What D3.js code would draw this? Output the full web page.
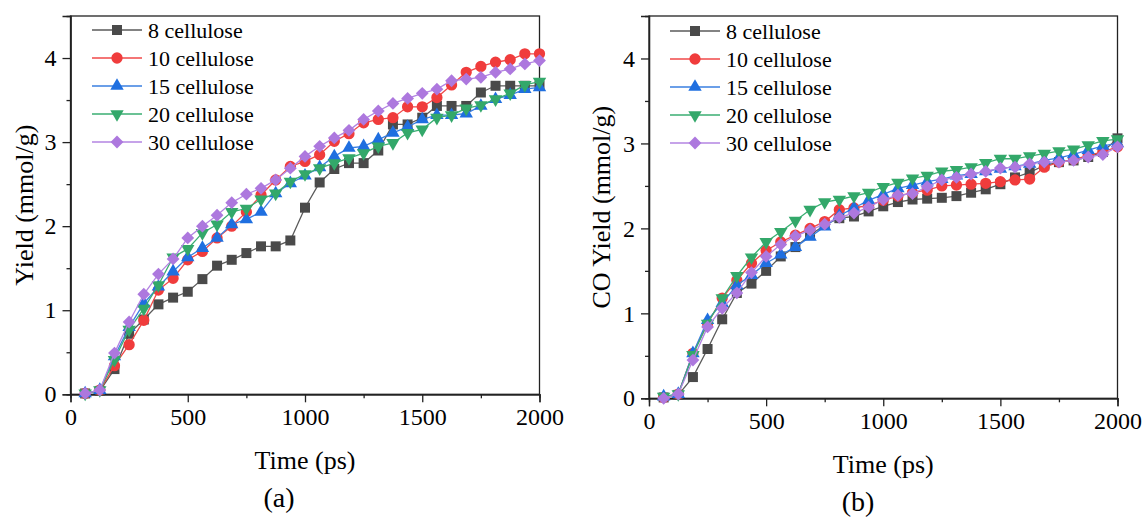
<!DOCTYPE html>
<html>
<head>
<meta charset="utf-8">
<script src="https://cdn.jsdelivr.net/npm/d3@7"></script>
<style>
  body { margin: 0; background: #fff; }
  svg text { font-family: "Liberation Serif", "Times New Roman", serif; fill: #000; }
</style>
</head>
<body>
<div id="chart"></div>
<script>
// time points (ps)
const times = [62.5, 125, 187.5, 250, 312.5, 375, 437.5, 500, 562.5, 625, 687.5, 750,
  812.5, 875, 937.5, 1000, 1062.5, 1125, 1187.5, 1250, 1312.5, 1375, 1437.5, 1500,
  1562.5, 1625, 1687.5, 1750, 1812.5, 1875, 1937.5, 2000];

const seriesNames = ["8 cellulose", "10 cellulose", "15 cellulose", "20 cellulose", "30 cellulose"];

// (a) Yield
const yieldA8  = [0.01, 0.04, 0.30, 0.72, 0.89, 1.07, 1.15, 1.22, 1.37, 1.53, 1.60, 1.68, 1.76, 1.76, 1.83, 2.22,
  2.52, 2.68, 2.75, 2.75, 2.90, 3.21, 3.21, 3.29, 3.43, 3.43, 3.43, 3.59, 3.67, 3.67, 3.67, 3.67];
const yieldA10 = [0.01, 0.05, 0.34, 0.59, 0.88, 1.24, 1.38, 1.60, 1.70, 1.86, 2.00, 2.17, 2.37, 2.55, 2.71, 2.77,
  2.85, 3.01, 3.10, 3.23, 3.27, 3.29, 3.42, 3.42, 3.53, 3.68, 3.83, 3.90, 3.95, 3.98, 4.05, 4.05];
const yieldA15 = [0.01, 0.05, 0.45, 0.80, 1.08, 1.28, 1.46, 1.63, 1.74, 1.86, 2.02, 2.08, 2.17, 2.39, 2.51, 2.60,
  2.70, 2.83, 2.93, 2.95, 3.03, 3.11, 3.18, 3.27, 3.32, 3.32, 3.34, 3.43, 3.51, 3.56, 3.63, 3.65];
const yieldA20 = [0.01, 0.05, 0.41, 0.77, 1.02, 1.30, 1.63, 1.73, 1.92, 2.02, 2.17, 2.21, 2.32, 2.39, 2.53, 2.62,
  2.69, 2.75, 2.81, 2.87, 2.95, 2.99, 3.11, 3.15, 3.29, 3.32, 3.40, 3.44, 3.51, 3.58, 3.68, 3.72];
const yieldA30 = [0.01, 0.05, 0.49, 0.86, 1.19, 1.43, 1.61, 1.86, 2.00, 2.13, 2.28, 2.38, 2.45, 2.55, 2.69, 2.83,
  2.95, 3.05, 3.14, 3.27, 3.37, 3.46, 3.52, 3.58, 3.63, 3.73, 3.75, 3.77, 3.83, 3.87, 3.93, 3.97];

// (b) CO yield
const coB8  = [0.01, 0.04, 0.25, 0.58, 0.93, 1.24, 1.35, 1.50, 1.67, 1.78, 1.92, 2.04, 2.12, 2.14, 2.20, 2.26,
  2.31, 2.34, 2.35, 2.36, 2.38, 2.42, 2.46, 2.52, 2.60, 2.66, 2.74, 2.78, 2.80, 2.84, 2.90, 3.06];
const coB10 = [0.01, 0.05, 0.53, 0.88, 1.18, 1.39, 1.59, 1.74, 1.84, 1.92, 2.00, 2.08, 2.22, 2.24, 2.27, 2.33,
  2.38, 2.42, 2.45, 2.50, 2.51, 2.52, 2.53, 2.55, 2.57, 2.58, 2.72, 2.78, 2.81, 2.86, 2.90, 2.96];
const coB15 = [0.02, 0.05, 0.53, 0.92, 1.12, 1.33, 1.45, 1.59, 1.69, 1.78, 1.90, 2.02, 2.15, 2.24, 2.33, 2.40,
  2.47, 2.51, 2.55, 2.58, 2.62, 2.64, 2.67, 2.70, 2.73, 2.76, 2.80, 2.83, 2.87, 2.92, 2.97, 3.00];
const coB20 = [0.02, 0.05, 0.51, 0.88, 1.18, 1.44, 1.66, 1.84, 1.96, 2.09, 2.22, 2.31, 2.34, 2.38, 2.42, 2.49,
  2.54, 2.59, 2.62, 2.67, 2.69, 2.72, 2.77, 2.82, 2.82, 2.85, 2.88, 2.91, 2.93, 2.98, 3.03, 3.05];
const coB30 = [0.00, 0.05, 0.45, 0.84, 1.06, 1.24, 1.48, 1.67, 1.81, 1.91, 1.98, 2.05, 2.13, 2.18, 2.25, 2.34,
  2.39, 2.41, 2.49, 2.57, 2.60, 2.64, 2.67, 2.71, 2.72, 2.76, 2.78, 2.78, 2.80, 2.84, 2.87, 2.96];

const xTicks = [0, 500, 1000, 1500, 2000];
const yTicks = [0, 1, 2, 3, 4];

const svg = d3.select("#chart").append("svg")
    .attr("width", 1147)
    .attr("height", 519);

// marker styles per series (same order as seriesNames)
const styles = [
  { line: "#5a5a5a", fill: "#4a4a4a", shape: "square" },
  { line: "#f04848", fill: "#f03c3c", shape: "circle" },
  { line: "#3a7fe0", fill: "#1f6fe0", shape: "up" },
  { line: "#3aae72", fill: "#33a86a", shape: "down" },
  { line: "#b384e2", fill: "#ad78de", shape: "diamond" }
];

function markerPath(shape) {
  if (shape === "square") return d3.symbol(d3.symbolSquare, 100)();
  if (shape === "circle") return d3.symbol(d3.symbolCircle, 100)();
  if (shape === "up" || shape === "down") return d3.symbol(d3.symbolTriangle, 78)();
  return d3.symbol(d3.symbolSquare, 82)();   // diamond = rotated square
}
function markerRot(shape) {
  if (shape === "down") return " rotate(180)";
  if (shape === "diamond") return " rotate(45)";
  return "";
}

function drawPanel(cfg) {
  const g = svg.append("g");
  const x = d3.scaleLinear().domain([0, 2000]).range([cfg.left, cfg.right]);
  const y = d3.scaleLinear().domain([0, 4.5]).range([cfg.bottom, cfg.top]);

    // frame
  g.append("rect")
      .attr("x", cfg.left).attr("y", cfg.top)
      .attr("width", cfg.right - cfg.left).attr("height", cfg.bottom - cfg.top)
      .attr("fill", "none").attr("stroke", "#222").attr("stroke-width", 1.3);

    // x axis
  const xAxis = g.append("g")
      .attr("transform", `translate(0,${cfg.bottom})`)
      .call(d3.axisBottom(x).tickValues(xTicks).tickSize(8).tickPadding(6).tickFormat(d3.format("d")));
  g.append("g")
      .attr("transform", `translate(0,${cfg.bottom})`)
      .call(d3.axisBottom(x).tickValues([250, 750, 1250, 1750]).tickSize(4).tickFormat(""));

    // y axis
  const yAxis = g.append("g")
      .attr("transform", `translate(${cfg.left},0)`)
      .call(d3.axisLeft(y).tickValues(yTicks).tickSize(8).tickPadding(6).tickFormat(d3.format("d")));
  g.append("g")
      .attr("transform", `translate(${cfg.left},0)`)
      .call(d3.axisLeft(y).tickValues([0.5, 1.5, 2.5, 3.5]).tickSize(4).tickFormat(""));

  g.selectAll(".domain").attr("stroke", "#222").attr("stroke-width", 1.3);
  g.selectAll(".tick line").attr("stroke", "#222").attr("stroke-width", 1.3);
  g.selectAll(".tick text")
      .style("font-family", "'Liberation Serif', serif")
      .style("font-size", "24px").attr("fill", "#000");

    // lines + markers
  cfg.data.forEach((vals, k) => {
    const st = styles[k];
    const line = d3.line()
        .x((d, i) => x(times[i]))
        .y(d => y(d));
    g.append("path")
        .datum(vals)
        .attr("fill", "none")
        .attr("stroke", st.line)
        .attr("stroke-width", 1.3)
        .attr("d", line);
    g.selectAll(null)
        .data(vals)
        .enter()
        .append("path")
        .attr("d", markerPath(st.shape))
        .attr("transform", (d, i) => `translate(${x(times[i])},${y(d)})` + markerRot(st.shape))
        .attr("fill", st.fill);
  });

    // legend
  seriesNames.forEach((name, k) => {
    const st = styles[k];
    const ly = cfg.legendY + k * 28;
    g.append("line")
        .attr("x1", cfg.legendX).attr("x2", cfg.legendX + 50)
        .attr("y1", ly).attr("y2", ly)
        .attr("stroke", st.line).attr("stroke-width", 1.6);
    g.append("path")
        .attr("d", markerPath(st.shape))
        .attr("transform", `translate(${cfg.legendX + 25},${ly})` + markerRot(st.shape))
        .attr("fill", st.fill);
    g.append("text")
        .attr("x", cfg.legendX + 56)
        .attr("y", ly)
        .attr("dy", "0.35em")
        .style("font-size", "22px")
        .text(name);
  });

    // axis titles
  g.append("text")
      .attr("text-anchor", "middle")
      .attr("x", (cfg.left + cfg.right) / 2)
      .attr("y", cfg.bottom + 75)
      .style("font-size", "26px")
      .text("Time (ps)");

  g.append("text")
      .attr("text-anchor", "middle")
      .attr("transform", "rotate(-90)")
      .attr("x", -(cfg.top + cfg.bottom) / 2)
      .attr("y", cfg.yTitleX)
      .style("font-size", "26px")
      .text(cfg.yTitle);

  g.append("text")
      .attr("text-anchor", "middle")
      .attr("x", cfg.tagX)
      .attr("y", cfg.bottom + 113)
      .style("font-size", "28px")
      .text(cfg.tag);
}

drawPanel({
  left: 70.5, right: 539.5, top: 16, bottom: 394.3,
  data: [yieldA8, yieldA10, yieldA15, yieldA20, yieldA30],
  legendX: 92, legendY: 30,
  yTitle: "Yield (mmol/g)", yTitleX: 33,
  tag: "(a)", tagX: 279
});

drawPanel({
  left: 649, right: 1117.5, top: 16, bottom: 398.3,
  data: [coB8, coB10, coB15, coB20, coB30],
  legendX: 670, legendY: 31,
  yTitle: "CO Yield (mmol/g)", yTitleX: 610,
  tag: "(b)", tagX: 858
});
</script>
</body>
</html>
